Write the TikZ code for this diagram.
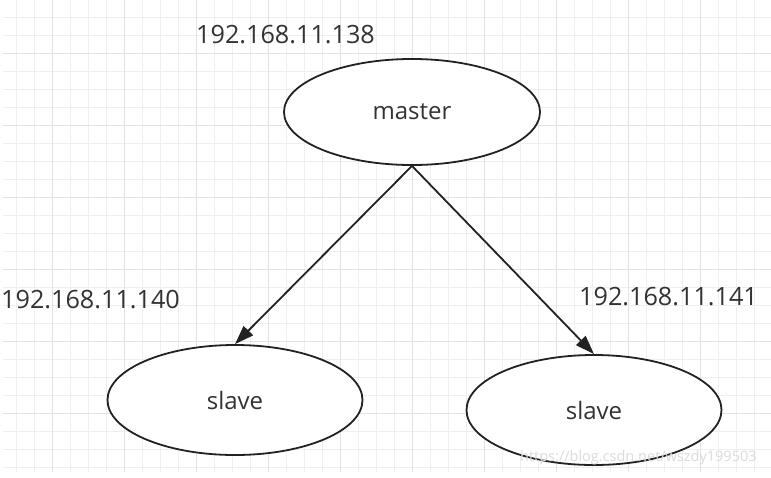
\documentclass[tikz,border=0pt]{standalone}
\usepackage{fontspec}
\setmainfont{Open Sans}
\usetikzlibrary{shapes.geometric,arrows.meta}
\definecolor{gridminor}{HTML}{EFEFEF}
\definecolor{gridmajor}{HTML}{E2E2E2}
\definecolor{txt}{HTML}{333333}
\definecolor{edge}{HTML}{222222}
\tikzset{
  host/.style={draw=edge, line width=1.8pt, ellipse, fill=white, inner sep=0pt, text=txt, font=\fontsize{24}{28}\selectfont},
  iplabel/.style={text=txt, font=\fontsize{25.2}{28}\selectfont, inner sep=0pt, anchor=west},
  link/.style={draw=edge, line width=1.8pt, -{Triangle[length=19pt,width=13pt]}},
  wmark/.style={text=black!14, font=\fontsize{14.5}{17}\selectfont, inner sep=0pt, anchor=west}
}
\begin{document}
\begin{tikzpicture}[x=1pt,y=-1pt]
\useasboundingbox (0,0) rectangle (771,477);
\fill[white] (0,0) rectangle (771,477);
% grid
\foreach \k in {0,...,42} {
  \draw[gridminor, line width=1pt] ({16.7+18*\k},0) -- ({16.7+18*\k},472);
}
\foreach \k in {0,...,26} {
  \draw[gridminor, line width=1pt] (3,{-0.7+18*\k}) -- (771,{-0.7+18*\k});
}
\foreach \k in {0,...,10} {
  \draw[gridmajor, line width=1.2pt] ({52.7+72*\k},0) -- ({52.7+72*\k},472);
}
\foreach \k in {0,...,6} {
  \draw[gridmajor, line width=1.2pt] (3,{53.3+72*\k}) -- (771,{53.3+72*\k});
}
% hosts
\node[host, minimum width=256pt, minimum height=106pt] (master) at (412,112) {master};
\node[host, minimum width=255pt, minimum height=110pt] (slaveL) at (235,400) {slave};
\node[host, minimum width=255pt, minimum height=110pt] (slaveR) at (594,410) {slave};
% labels
\node[iplabel] (ipM) at (196,35) {192.168.11.138};
\node[iplabel] (ipL) at (1,300) {192.168.11.140};
\node[iplabel] (ipR) at (579,297) {192.168.11.141};
% connectors
\coordinate (mb) at (master.south);
\draw[link] (mb) -- (slaveL.north);
\draw[link] (mb) -- (slaveR.north);
% watermark
\node[wmark] (wm) at (520,458) {https://blog.csdn.net/wszdy199503};
\end{tikzpicture}
\end{document}
